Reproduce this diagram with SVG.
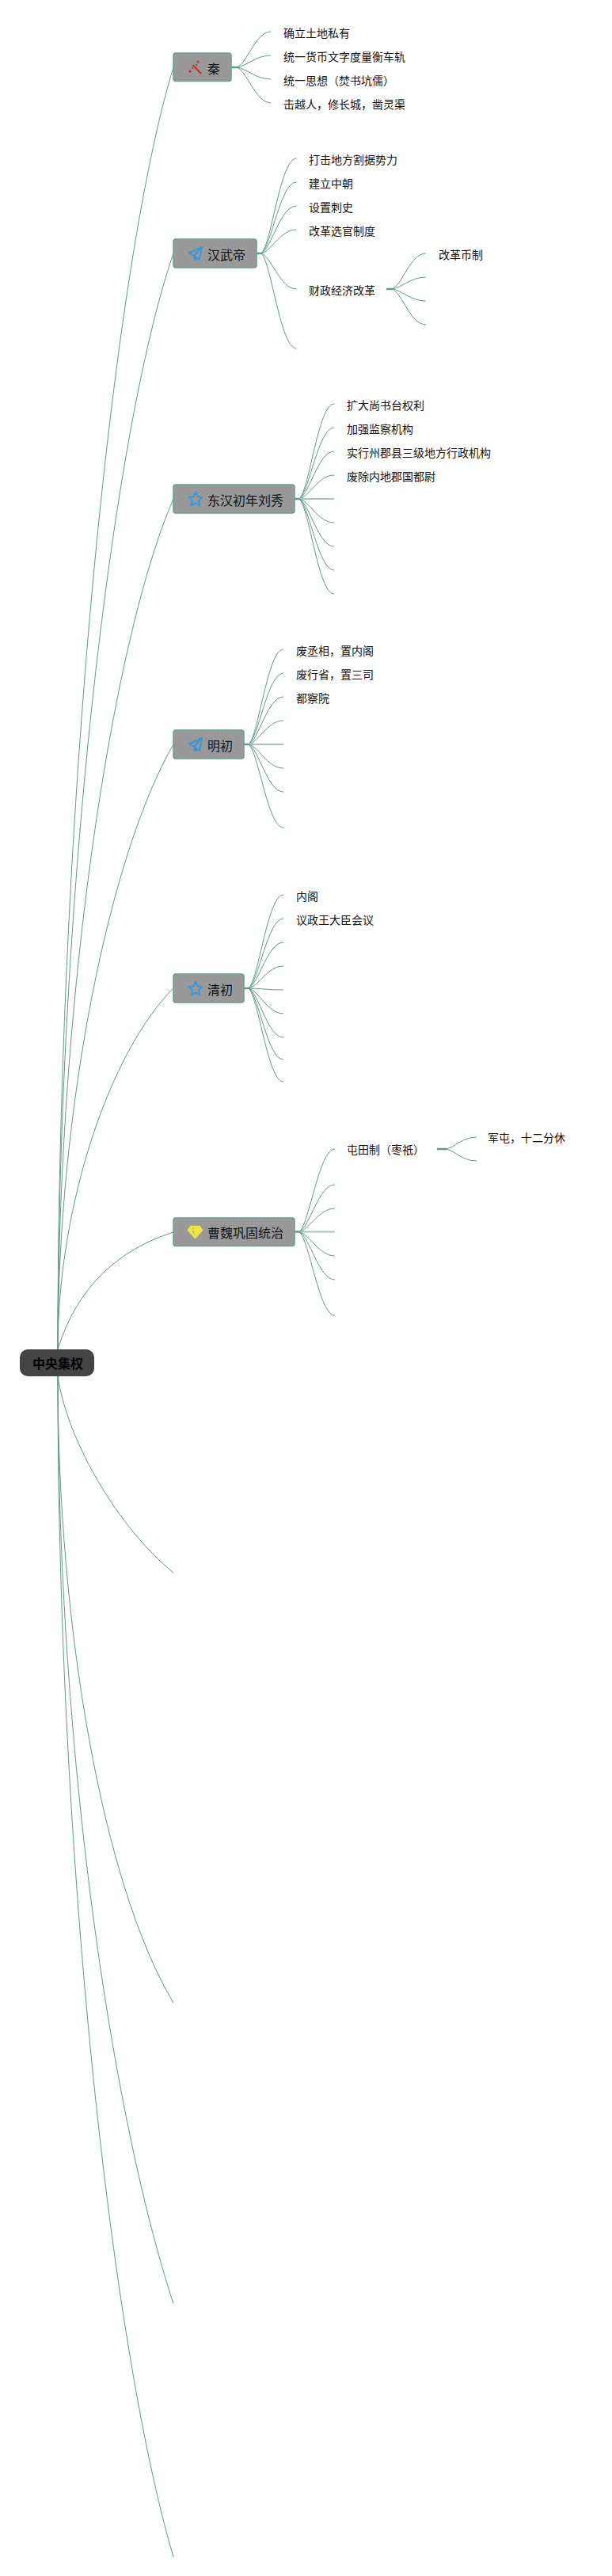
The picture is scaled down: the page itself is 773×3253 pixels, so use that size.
<svg xmlns="http://www.w3.org/2000/svg" width="773" height="3253" viewBox="0 0 773 3253">
<style>
text{font-family:"Noto Sans CJK SC","Noto Sans",sans-serif;fill:#111}
.l{font-size:14px}
.b{font-size:16px}
.r{font-size:16px;font-weight:700;fill:#000}
.box{fill:#999;stroke:#6b9e8e;stroke-width:1.5}
.root{fill:#444}
#connectors path{fill:none;stroke:#5f9a89;stroke-width:1}
#connectors .stub{stroke-width:2.5}
#connectors .flat{stroke-width:2;stroke:#a5c7bc}
.star,.plane{fill:none;stroke:#3498db;stroke-width:2;stroke-linejoin:round}
</style>
<rect width="773" height="3253" fill="#fff"/>
<g id="connectors">
<g id="root-links">
<path d="M73 1704C73 1056 139 347 219 85"/>
<path d="M73 1704C73 1150 139 554 219 320"/>
<path d="M73 1704C73 1274 139 815 219 630"/>
<path d="M73 1704C73 1398 139 1078 219 940"/>
<path d="M73 1704C73 1522 139 1328 219 1248"/>
<path d="M73 1704C97 1625 150 1578 219 1556"/>
<path d="M73 1738C85 1820 150 1930 219 1986"/>
<path d="M73 1738C73 2054 130 2381 219 2529"/>
<path d="M73 1738C73 2206 139 2664 219 2909"/>
<path d="M73 1738C73 2334 139 2957 219 3229"/>
</g>
<g id="qin-links">
<path class="stub" d="M292 85H300"/>
<path d="M299 85c13 -4.500 24 -45 43 -45"/>
<path d="M299 85c13 -1.500 24 -15 43 -15"/>
<path d="M299 85c13 1.500 24 15 43 15"/>
<path d="M299 85c13 4.500 24 45 43 45"/>
</g>
<g id="hanwu-links">
<path class="stub" d="M324 320H331"/>
<path d="M330 320c13 -12 24 -120 44.500 -120"/>
<path d="M330 320c13 -9 24 -90 44.500 -90"/>
<path d="M330 320c13 -6 24 -60 44.500 -60"/>
<path d="M330 320c13 -3 24 -30 44.500 -30"/>
<path d="M330 320c13 4.500 24 45 44.500 45"/>
<path d="M330 320c13 12 24 120 44.500 120"/>
<path class="stub" d="M488 365H496"/>
<path d="M495 365c13 -4.500 23 -45 43 -45"/>
<path d="M495 365c13 -1.500 23 -15 43 -15"/>
<path d="M495 365c13 1.500 23 15 43 15"/>
<path d="M495 365c13 4.500 23 45 43 45"/>
</g>
<g id="donghan-links">
<path class="stub" d="M372 630H380"/>
<path d="M378 630c13 -12 24 -120 44 -120"/>
<path d="M378 630c13 -9 24 -90 44 -90"/>
<path d="M378 630c13 -6 24 -60 44 -60"/>
<path d="M378 630c13 -3 24 -30 44 -30"/>
<path class="flat" d="M378 630H422"/>
<path d="M378 630c13 3 24 30 44 30"/>
<path d="M378 630c13 6 24 60 44 60"/>
<path d="M378 630c13 9 24 90 44 90"/>
<path d="M378 630c13 12 24 120 44 120"/>
</g>
<g id="ming-links">
<path class="stub" d="M308 940H316"/>
<path d="M314 940c13 -12 24 -120 44 -120"/>
<path d="M314 940c13 -9 24 -90 44 -90"/>
<path d="M314 940c13 -6 24 -60 44 -60"/>
<path d="M314 940c13 -3 24 -30 44 -30"/>
<path class="flat" d="M314 940H358"/>
<path d="M314 940c13 3 24 30 44 30"/>
<path d="M314 940c13 6 24 60 44 60"/>
<path d="M314 940c13 10.500 24 105 44 105"/>
</g>
<g id="qing-links">
<path class="stub" d="M308 1248H316"/>
<path d="M314 1248c13 -11.800 24 -118 44 -118"/>
<path d="M314 1248c13 -8.800 24 -88 44 -88"/>
<path d="M314 1248c13 -5.800 24 -58 44 -58"/>
<path d="M314 1248c13 -2.800 24 -28 44 -28"/>
<path d="M314 1248c13 0 24 2 44 2"/>
<path d="M314 1248c13 3.200 24 32 44 32"/>
<path d="M314 1248c13 6.200 24 62 44 62"/>
<path d="M314 1248c13 9 24 90 44 90"/>
<path d="M314 1248c13 11.800 24 118 44 118"/>
</g>
<g id="caowei-links">
<path class="stub" d="M372 1555.500H380"/>
<path d="M378 1555.500c13 -10.500 25 -104.500 45 -104.500"/>
<path d="M378 1555.500c13 -6 25 -59.500 45 -59.500"/>
<path d="M378 1555.500c13 -3 25 -29.500 45 -29.500"/>
<path class="flat" d="M378 1555.500H423"/>
<path d="M378 1555.500c13 3 25 30.500 45 30.500"/>
<path d="M378 1555.500c13 6 25 60.500 45 60.500"/>
<path d="M378 1555.500c13 10.500 25 105.500 45 105.500"/>
<path class="stub" d="M552 1451H564"/>
<path d="M563 1451c11 -1.500 20 -15 39 -15"/>
<path d="M563 1451c11 1.500 20 15 39 15"/>
</g>
</g>
<g id="node-root"><rect class="root" x="25" y="1704" width="94" height="34" rx="10"/><text class="r" x="41" y="1728">中央集权</text></g>
<g id="node-qin"><rect class="box" x="219" y="67" width="73" height="35.500" rx="3"/>
<path d="M243.500 82L254 93" stroke="#c0392b" stroke-width="2.500" fill="none"/><circle cx="240" cy="90" r="1.700" fill="#c0392b"/><circle cx="250" cy="78" r="1.500" fill="#c0392b"/><circle cx="248" cy="82" r="1" fill="#c0392b"/><circle cx="243" cy="86" r="1" fill="#c0392b"/>
<text class="b" x="262" y="92.500">秦</text></g>
<g id="node-hanwu"><rect class="box" x="219" y="302" width="105" height="36" rx="3"/>
<path class="plane" d="M255 312L239 319.500L245 323L252 327.500ZM255 312L245 323L246 328L250 326"/>
<text class="b" x="262" y="327.500">汉武帝</text></g>
<g id="node-donghan"><rect class="box" x="219" y="612" width="153" height="36" rx="3"/>
<polygon class="star" points="247,621.500 249.600,627.300 255.500,628 251.100,632.100 252.300,638.500 247,635.300 241.700,638.500 242.900,632.100 238.500,628 244.400,627.300"/>
<text class="b" x="262" y="637.500">东汉初年刘秀</text></g>
<g id="node-ming"><rect class="box" x="219" y="922" width="89" height="36" rx="3"/>
<path class="plane" d="M255 932L239 939.500L245 943L252 947.500ZM255 932L245 943L246 948L250 946"/>
<text class="b" x="262" y="947.500">明初</text></g>
<g id="node-qing"><rect class="box" x="219" y="1230" width="89" height="36" rx="3"/>
<polygon class="star" points="247,1239.500 249.600,1245.300 255.500,1246 251.100,1250.100 252.300,1256.500 247,1253.300 241.700,1256.500 242.900,1250.100 238.500,1246 244.400,1245.300"/>
<text class="b" x="262" y="1255.500">清初</text></g>
<g id="node-caowei"><rect class="box" x="219" y="1538" width="153" height="35.500" rx="3"/>
<path d="M241 1548.500H252L255.500 1553.500L246.500 1563.500L237.500 1553.500ZM238 1553.500H255M243 1549L241.500 1553.500L246.500 1563M250 1549L251.500 1553.500L246.500 1563M246.500 1549L246.500 1563" fill="#e8e04a" stroke="#f3e83a" stroke-width="1.500" stroke-linejoin="round"/>
<text class="b" x="262" y="1563">曹魏巩固统治</text></g>
<g id="qin-items">
<g id="n1"><text class="l" x="358" y="47">确立土地私有</text></g>
<g id="n2"><text class="l" x="358" y="77">统一货币文字度量衡车轨</text></g>
<g id="n3"><text class="l" x="358" y="107">统一思想（焚书坑儒）</text></g>
<g id="n4"><text class="l" x="358" y="137">击越人，修长城，凿灵渠</text></g>
</g>
<g id="hanwu-items">
<g id="n5"><text class="l" x="390" y="207">打击地方割据势力</text></g>
<g id="n6"><text class="l" x="390" y="237">建立中朝</text></g>
<g id="n7"><text class="l" x="390" y="267">设置刺史</text></g>
<g id="n8"><text class="l" x="390" y="297">改革选官制度</text></g>
<g id="n9"><text class="l" x="390" y="372">财政经济改革</text></g>
<g id="n10"><text class="l" x="554" y="327">改革币制</text></g>
</g>
<g id="donghan-items">
<g id="n11"><text class="l" x="438" y="517">扩大尚书台权利</text></g>
<g id="n12"><text class="l" x="438" y="547">加强监察机构</text></g>
<g id="n13"><text class="l" x="438" y="577">实行州郡县三级地方行政机构</text></g>
<g id="n14"><text class="l" x="438" y="607">废除内地郡国都尉</text></g>
</g>
<g id="ming-items">
<g id="n15"><text class="l" x="374" y="827">废丞相，置内阁</text></g>
<g id="n16"><text class="l" x="374" y="857">废行省，置三司</text></g>
<g id="n17"><text class="l" x="374" y="887">都察院</text></g>
</g>
<g id="qing-items">
<g id="n18"><text class="l" x="374" y="1137">内阁</text></g>
<g id="n19"><text class="l" x="374" y="1167">议政王大臣会议</text></g>
</g>
<g id="caowei-items">
<g id="n20"><text class="l" x="438" y="1457">屯田制（枣祇）</text></g>
<g id="n21"><text class="l" x="616" y="1442">军屯，十二分休</text></g>
</g>
</svg>
